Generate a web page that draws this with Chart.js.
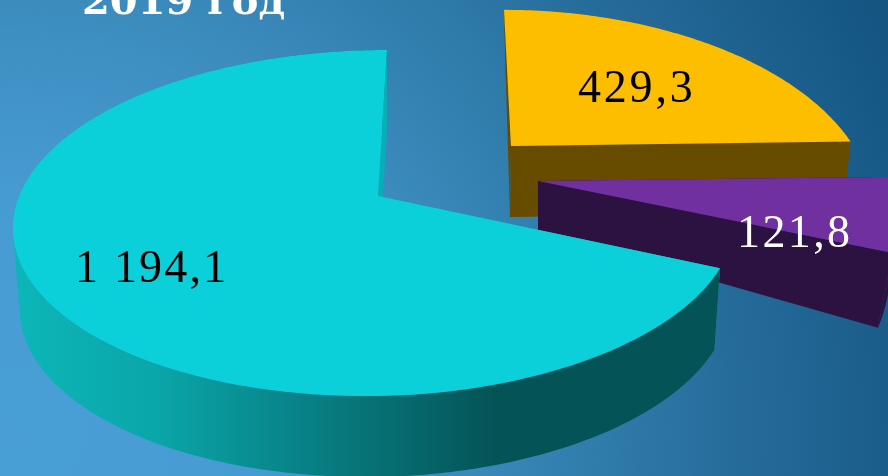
<!DOCTYPE html>
<html lang="ru">
<head>
<meta charset="utf-8">
<title>2019 год</title>
<style>html,body{margin:0;padding:0;background:#3a87b8}canvas{display:block}</style>
<script src="https://cdn.jsdelivr.net/npm/chart.js@4/dist/chart.umd.min.js"></script>
</head>
<body>
<canvas id="c" width="888" height="476"></canvas>
<script>
const chartTitle = '2019 год';
const sliceKeys = ['gold', 'purple', 'teal'];
const sliceValues = [429.3, 121.8, 1194.1];
const sliceLabels = ['429,3', '121,8', '1 194,1'];
const topColors = ['#fdbe00', '#7030a0', '#0bd0d9'];
const wallColors = ['#674c00', '#2c1240', null];
const cutColors = ['#674c00', '#2c1240', '#07aeb6'];
const labelColors = ['#000000', '#ffffff', '#000000'];
const labelAnchors = [[578, 102], [737, 247], [75, 282]];
const labelSpacing = ['2.8px', '2.4px', '2.2px'];

// Perspective view of each exploded slice: top plane and bottom plane
// c = horizontal radius on the right, cl = on the left
const topPlanes = [
  {ax: 511, ay: 146, c: 342.5, cl: 342.5, b: 177, q: 0.30, s: 0.0515},
  {ax: 538, ay: 181, c: 363, cl: 363, b: 168, q: 0.156, s: 0},
  {ax: 378, ay: 196, c: 354.6, cl: 358.8, b: 168.8, q: 0.156, s: -0.0615}
];
const bottomPlanes = [
  {ax: 510, ay: 217, c: 335, cl: 335, b: 177, q: 0.30, s: 0.03},
  {ax: 538, ay: 231, c: 348, cl: 348, b: 226, q: 0.156, s: 0},
  {ax: 378, ay: 277, c: 349, cl: 352, b: 168.8, q: 0.156, s: -0.0615}
];

function project(p, a) {
  const u = Math.cos(a), v = Math.sin(a), d = 1 - p.q * v, yo = p.b * v / d;
  return [p.ax + (u > 0 ? p.c : p.cl) * u / d + p.s * yo, p.ay + yo];
}
function rim(p, a0, a1) {
  const n = Math.max(8, Math.ceil((a1 - a0) * 60)), pts = [];
  for (let i = 0; i <= n; i++) pts.push(project(p, a0 + (a1 - a0) * i / n));
  return pts;
}
function poly(ctx, pts) {
  ctx.moveTo(pts[0][0], pts[0][1]);
  for (let i = 1; i < pts.length; i++) ctx.lineTo(pts[i][0], pts[i][1]);
  ctx.closePath();
}
function signedArea(pts) {
  let s = 0;
  for (let i = 0; i < pts.length; i++) {
    const a = pts[i], b = pts[(i + 1) % pts.length];
    s += a[0] * b[1] - b[0] * a[1];
  }
  return s;
}
function drawSlice(ctx, arc, i, colors) {
  const a0 = arc.startAngle, a1 = arc.endAngle;
  const T = topPlanes[i], B = bottomPlanes[i];
  const tr = rim(T, a0, a1), br = rim(B, a0, a1);
  const tA = [T.ax, T.ay], bA = [B.ax, B.ay];

  // starting cut face
  ctx.fillStyle = cutColors[i];
  ctx.beginPath();
  poly(ctx, [tA, tr[0], br[0], bA]);
  ctx.fill();

  // outer wall
  let wall = wallColors[i];
  if (!wall) {
    wall = ctx.createLinearGradient(15, 0, 720, 0);
    wall.addColorStop(0, '#0cb6b8');
    wall.addColorStop(0.2, '#0aa6a9');
    wall.addColorStop(0.4, '#088388');
    wall.addColorStop(0.55, '#066a6e');
    wall.addColorStop(0.68, '#045357');
    wall.addColorStop(1, '#045357');
  }
  ctx.fillStyle = wall;
  ctx.beginPath();
  for (let k = 0; k < tr.length - 1; k++) {
    const quad = [tr[k], tr[k + 1], br[k + 1], br[k]];
    if (signedArea(quad) < 0) quad.reverse();
    poly(ctx, quad);
  }
  ctx.fill();

  // ending cut face
  ctx.fillStyle = cutColors[i];
  ctx.beginPath();
  poly(ctx, [tA, tr[tr.length - 1], br[br.length - 1], bA]);
  ctx.fill();

  // top face
  ctx.fillStyle = colors[i];
  ctx.beginPath();
  poly(ctx, [tA].concat(tr));
  ctx.fill();
}

const scene = {
  id: 'scene',
  beforeDraw(chart) {
    const ctx = chart.ctx, w = chart.width, h = chart.height;
    const g = ctx.createRadialGradient(20, 430, 0, 20, 430, 950);
    g.addColorStop(0, '#489fd6');
    g.addColorStop(0.25, '#469bd2');
    g.addColorStop(0.45, '#3c8cbe');
    g.addColorStop(0.6, '#307dac');
    g.addColorStop(0.75, '#266c9b');
    g.addColorStop(1, '#145582');
    ctx.save();
    ctx.fillStyle = g;
    ctx.fillRect(0, 0, w, h);
    ctx.restore();
  },
  beforeDatasetsDraw(chart) {
    const ctx = chart.ctx, meta = chart.getDatasetMeta(0);
    ctx.save();
    meta.data.forEach((arc, i) => drawSlice(ctx, arc, i, chart.data.datasets[0].backgroundColor));
    ctx.restore();
    return false;
  },
  afterDraw(chart) {
    const ctx = chart.ctx;
    ctx.save();
    ctx.textBaseline = 'alphabetic';
    ctx.textAlign = 'left';
    ctx.fillStyle = '#ffffff';
    ctx.font = 'bold 40px "DejaVu Serif"';
    ctx.fillText(chartTitle, 82, 14);
    ctx.font = '46px "Liberation Serif"';
    sliceLabels.forEach((t, i) => {
      ctx.letterSpacing = labelSpacing[i];
      ctx.fillStyle = labelColors[i];
      ctx.fillText(t, labelAnchors[i][0], labelAnchors[i][1]);
    });
    ctx.restore();
  }
};

new Chart(document.getElementById('c'), {
  type: 'pie',
  data: {
    labels: sliceLabels,
    datasets: [{data: sliceValues, backgroundColor: topColors, borderWidth: 0}]
  },
  options: {
    responsive: false,
    animation: false,
    rotation: 0,
    layout: {padding: 0},
    plugins: {legend: {display: false}, tooltip: {enabled: false}, title: {display: false}}
  },
  plugins: [scene]
});
</script>
</body>
</html>
